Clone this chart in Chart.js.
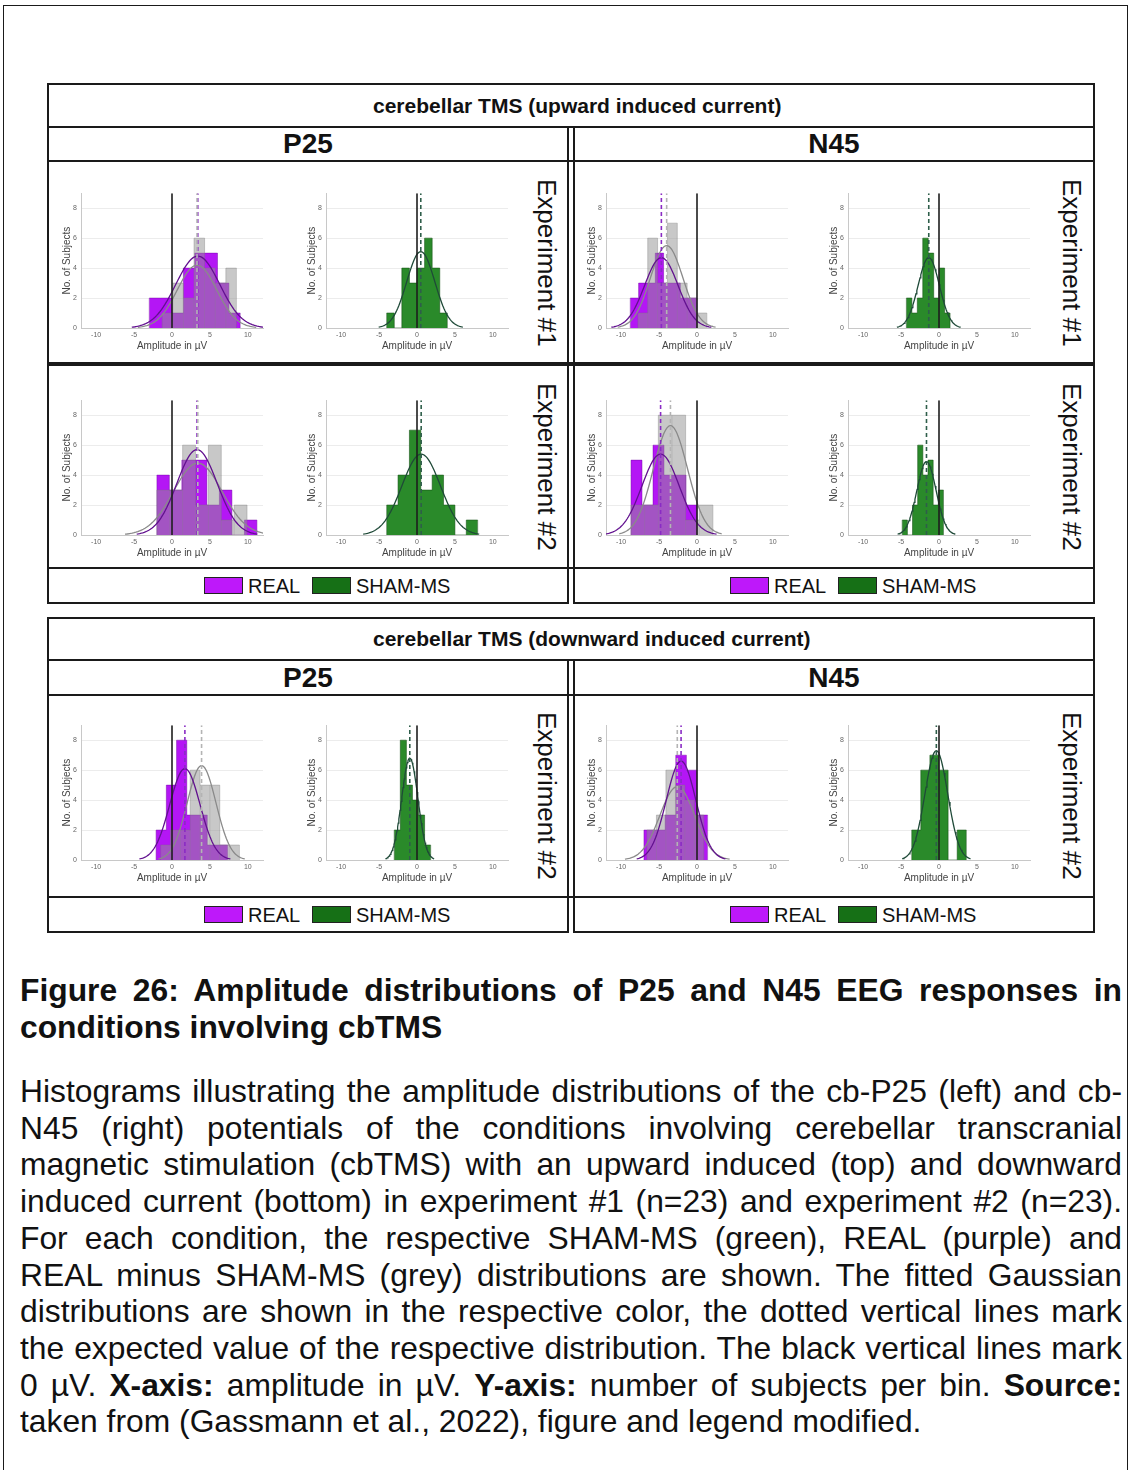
<!DOCTYPE html>
<html>
<head>
<meta charset="utf-8">
<script src="https://cdn.jsdelivr.net/npm/chart.js@4.4.1/dist/chart.umd.min.js"></script>
<style>
body { margin: 0; width: 1130px; height: 1470px; background: #fff; position: relative; overflow: hidden;
       font-family: "Liberation Sans", Arial, sans-serif; color: #111; }
.box { position: absolute; border: 2px solid #1a1a1a; box-sizing: border-box; }
.hl { position: absolute; height: 2px; background: #1a1a1a; }
.cell { position: absolute; display: flex; align-items: center; justify-content: center; font-weight: bold; }
.ttl { position: absolute; display: flex; align-items: center; font-weight: bold; font-size: 21px; }
.exp { position: absolute; writing-mode: vertical-rl; font-size: 26px; display: flex; align-items: center; justify-content: center; }
.swatch { position: absolute; width: 39px; height: 17px; border: 1.5px solid #222; box-sizing: border-box; }
.ltext { position: absolute; font-size: 20px; line-height: 20px; }
canvas { position: absolute; }
.cap { position: absolute; left: 20px; width: 1102px; font-size: 31.8px; line-height: 36.7px; }
.j { text-align: justify; text-align-last: justify; }
</style>
</head>
<body>
<div class="box" style="left:3px;top:5px;width:1125px;height:1500px;border-width:1.5px"></div>

<!-- upward induced current -->
<div class="box" style="left:47px;top:83px;width:1048px;height:45px"></div>
<div class="ttl" style="left:373px;top:83px;height:45px">cerebellar TMS (upward induced current)</div>
<div class="box" style="left:47px;top:126px;width:522px;height:478px"></div>
<div class="box" style="left:573px;top:126px;width:522px;height:478px"></div>
<div class="hl" style="left:47px;top:160px;width:1048px"></div>
<div class="hl" style="left:47px;top:362px;width:1048px;height:4px"></div>
<div class="hl" style="left:47px;top:567px;width:1048px"></div>
<div class="cell" style="left:47px;top:127px;width:522px;height:34px;font-size:28px">P25</div>
<div class="cell" style="left:573px;top:127px;width:522px;height:34px;font-size:28px">N45</div>
<div class="exp" style="left:528px;top:165px;width:36px;height:196px">Experiment #1</div>
<div class="exp" style="left:1053px;top:165px;width:36px;height:196px">Experiment #1</div>
<div class="exp" style="left:528px;top:368px;width:36px;height:198px">Experiment #2</div>
<div class="exp" style="left:1053px;top:368px;width:36px;height:198px">Experiment #2</div>

<!-- downward induced current -->
<div class="box" style="left:47px;top:617px;width:1048px;height:44px"></div>
<div class="ttl" style="left:373px;top:617px;height:44px">cerebellar TMS (downward induced current)</div>
<div class="box" style="left:47px;top:659px;width:522px;height:274px"></div>
<div class="box" style="left:573px;top:659px;width:522px;height:274px"></div>
<div class="hl" style="left:47px;top:694px;width:1048px"></div>
<div class="hl" style="left:47px;top:896px;width:1048px"></div>
<div class="cell" style="left:47px;top:660px;width:522px;height:35px;font-size:28px">P25</div>
<div class="cell" style="left:573px;top:660px;width:522px;height:35px;font-size:28px">N45</div>
<div class="exp" style="left:528px;top:697px;width:36px;height:198px">Experiment #2</div>
<div class="exp" style="left:1053px;top:697px;width:36px;height:198px">Experiment #2</div>

<div id="legends"></div>

<div class="cap" style="top:972px;font-weight:bold">
  <div class="j">Figure 26: Amplitude distributions of P25 and N45 EEG responses in</div>
  <div>conditions involving cbTMS</div>
</div>
<div class="cap" style="top:1073px">
  <div class="j">Histograms illustrating the amplitude distributions of the cb-P25 (left) and cb-</div>
  <div class="j">N45 (right) potentials of the conditions involving cerebellar transcranial</div>
  <div class="j">magnetic stimulation (cbTMS) with an upward induced (top) and downward</div>
  <div class="j">induced current (bottom) in experiment #1 (n=23) and experiment #2 (n=23).</div>
  <div class="j">For each condition, the respective SHAM-MS (green), REAL (purple) and</div>
  <div class="j">REAL minus SHAM-MS (grey) distributions are shown. The fitted Gaussian</div>
  <div class="j">distributions are shown in the respective color, the dotted vertical lines mark</div>
  <div class="j">the expected value of the respective distribution. The black vertical lines mark</div>
  <div class="j">0 µV. <b>X-axis:</b> amplitude in µV. <b>Y-axis:</b> number of subjects per bin. <b>Source:</b></div>
  <div>taken from (Gassmann et al., 2022), figure and legend modified.</div>
</div>

<script>
var xTicks = [-10, -5, 0, 5, 10];
var yTicks = [0, 2, 4, 6, 8];

// conditions: up P25 #1, up N45 #1, up P25 #2, up N45 #2, down P25 #2, down N45 #2
var realStart = [-3.0, -8.8, -2.0, -8.7, -2.1, -7.0];
var realWidth = [1.5, 1.1, 1.65, 1.45, 1.35, 1.4];
var realCounts = [
    [2, 2, 1, 4, 5, 5, 3, 1],
    [2, 3, 3, 5, 3, 3, 2, 2],
    [4, 3, 5, 5, 2, 3, 0, 1],
    [5, 2, 6, 4, 4, 2],
    [2, 5, 8, 3, 3, 1, 1],
    [2, 2, 3, 7, 6, 3]
];
// REAL minus SHAM-MS
var diffStart = [-1.3, -7.8, -2.0, -8.7, -1.5, -6.6];
var diffWidth = [1.4, 1.3, 1.7, 1.8, 1.3, 1.25];
var diffCounts = [
    [1, 3, 2, 6, 4, 3, 4],
    [1, 6, 3, 7, 3, 2, 1],
    [3, 3, 6, 2, 6, 1, 2],
    [2, 2, 8, 8, 1, 2],
    [1, 2, 2, 6, 5, 5, 1, 1],
    [2, 3, 6, 5, 4, 3]
];
var shamStart = [-4.0, -4.3, -4.0, -4.85, -3.0, -3.6];
var shamWidth = [1.0, 0.72, 1.5, 0.68, 0.8, 1.2];
var shamCounts = [
    [1, 0, 4, 3, 4, 6, 4, 1],
    [2, 1, 2, 6, 5, 2, 4, 1],
    [2, 4, 7, 3, 4, 2, 0, 1],
    [1, 0, 2, 6, 4, 5, 2, 3],
    [2, 8, 5, 4, 3, 1],
    [2, 6, 7, 6, 0, 2]
];
// fitted gaussians (mean = expected value, sd, peak height)
var realMean = [3.4, -4.7, 3.3, -4.8, 1.7, -2.1];
var realSd = [2.9, 2.2, 2.65, 2.46, 2.0, 1.95];
var realPeak = [4.8, 4.7, 5.7, 5.4, 6.1, 6.6];
var diffMean = [3.3, -4.0, 3.4, -3.5, 3.9, -2.6];
var diffSd = [2.6, 2.15, 3.2, 2.25, 1.9, 2.3];
var diffPeak = [4.2, 5.5, 4.8, 7.3, 6.3, 4.9];
var shamMean = [0.5, -1.35, 0.55, -1.65, -0.95, -0.35];
var shamSd = [1.85, 1.4, 2.55, 1.27, 1.07, 1.5];
var shamPeak = [5.1, 4.7, 5.4, 4.9, 6.8, 7.3];

// where things go on the page
var plotLeft = [81, 326, 606, 848];
var plotTop = [191, 398, 723];
var plotW = 182, plotH = 137;
var legendY = [577, 906];

function histPoints(start, width, counts) {
    var pts = [{x: start, y: 0}];
    for (var i = 0; i < counts.length; i++) pts.push({x: start + i * width, y: counts[i]});
    pts.push({x: start + counts.length * width, y: 0});
    return pts;
}

function edgePoints(start, width, counts) {
    var pts = [];
    for (var i = 1; i < counts.length; i++) {
        var h = Math.min(counts[i - 1], counts[i]);
        if (h > 0) {
            var e = start + i * width;
            pts.push({x: e, y: 0}, {x: e, y: h}, {x: e, y: null});
        }
    }
    return pts;
}

function gaussPoints(mean, sd, peak) {
    var pts = [];
    for (var i = 0; i <= 80; i++) {
        var x = mean - 3 * sd + i * 6 * sd / 80;
        pts.push({x: x, y: peak * Math.exp(-0.5 * Math.pow((x - mean) / sd, 2))});
    }
    return pts;
}

function vline(x) {
    return [{x: x, y: 0}, {x: x, y: 9}];
}

function histSets(start, width, counts, fill, edge, order) {
    return [{
        data: histPoints(start, width, counts), stepped: 'before', fill: 'origin',
        backgroundColor: fill, borderColor: edge, borderWidth: 0.8, order: order
    }, {
        data: edgePoints(start, width, counts), spanGaps: false, fill: false,
        borderColor: edge, borderWidth: 0.6, order: order
    }];
}

function curveSet(pts, color, order) {
    return {data: pts, borderColor: color, borderWidth: 1.3, fill: false, tension: 0, order: order};
}

function dashSet(x, color) {
    return {data: vline(x), borderColor: color, borderWidth: 1.6, borderDash: [4, 3], fill: false, order: 2};
}

function zeroSet() {
    return {data: vline(0), borderColor: '#1e1e1e', borderWidth: 1.6, fill: false, order: 1};
}

function makeChart(col, row, datasets) {
    var c = document.createElement('canvas');
    var w = 22 + plotW + 6, h = 6 + plotH + 28;
    c.width = w; c.height = h;
    c.style.left = (plotLeft[col] - 22) + 'px';
    c.style.top = (plotTop[row] - 6) + 'px';
    c.style.width = w + 'px'; c.style.height = h + 'px';
    document.body.appendChild(c);
    new Chart(c.getContext('2d'), {
        type: 'line',
        data: {datasets: datasets},
        options: {
            animation: false,
            responsive: false,
            layout: {padding: {top: 6, right: 6, left: 0, bottom: 0}},
            elements: {point: {radius: 0}, line: {borderCapStyle: 'butt'}},
            plugins: {legend: {display: false}, tooltip: {enabled: false}},
            scales: {
                x: {
                    type: 'linear', min: -12, max: 12,
                    afterBuildTicks: function(s) { s.ticks = xTicks.map(function(v) { return {value: v}; }); },
                    afterFit: function(s) { s.height = 28; },
                    ticks: {font: {size: 7}, color: '#666', padding: 3, maxRotation: 0, autoSkip: false},
                    grid: {color: 'rgba(0,0,0,0)', drawTicks: false},
                    border: {color: '#c8c8c8'},
                    title: {display: true, text: 'Amplitude in µV', font: {size: 10}, color: '#444', padding: {top: 0, bottom: 4}}
                },
                y: {
                    min: 0, max: 9,
                    afterBuildTicks: function(s) { s.ticks = yTicks.map(function(v) { return {value: v}; }); },
                    afterFit: function(s) { s.width = 22; },
                    ticks: {font: {size: 7}, color: '#666', padding: 4},
                    grid: {color: '#ececec', drawTicks: false},
                    border: {color: '#c8c8c8'},
                    title: {display: true, text: 'No. of Subjects', font: {size: 10}, color: '#444', padding: {top: 2, bottom: 0}}
                }
            }
        }
    });
}

var purpleFill = 'rgb(180, 22, 245)';
var purpleEdge = 'rgba(110, 0, 160, 0.55)';
var greyFill = 'rgba(145, 145, 145, 0.5)';
var greyEdge = 'rgba(120, 120, 120, 0.45)';
var greenFill = 'rgb(42, 138, 42)';
var greenEdge = 'rgba(20, 80, 20, 0.7)';

for (var k = 0; k < 6; k++) {
    var row = k < 2 ? 0 : (k < 4 ? 1 : 2);
    var colReal = (k % 2) * 2;

    var realSets = []
        .concat(histSets(realStart[k], realWidth[k], realCounts[k], purpleFill, purpleEdge, 20))
        .concat(histSets(diffStart[k], diffWidth[k], diffCounts[k], greyFill, greyEdge, 15));
    realSets.push(curveSet(gaussPoints(diffMean[k], diffSd[k], diffPeak[k]), '#8a8a8a', 6));
    realSets.push(curveSet(gaussPoints(realMean[k], realSd[k], realPeak[k]), '#62118f', 5));
    realSets.push(dashSet(diffMean[k], '#b4b4b4'));
    realSets.push(dashSet(realMean[k], '#8a2bc4'));
    realSets.push(zeroSet());
    makeChart(colReal, row, realSets);

    var shamSets = histSets(shamStart[k], shamWidth[k], shamCounts[k], greenFill, greenEdge, 20);
    shamSets.push(curveSet(gaussPoints(shamMean[k], shamSd[k], shamPeak[k]), '#1f4a38', 5));
    shamSets.push(dashSet(shamMean[k], '#2e5e4a'));
    shamSets.push(zeroSet());
    makeChart(colReal + 1, row, shamSets);
}

// legend rows
var lg = document.getElementById('legends');
[0, 1].forEach(function(r) {
    [0, 526].forEach(function(dx) {
        lg.insertAdjacentHTML('beforeend',
            '<div class="swatch" style="left:' + (204 + dx) + 'px;top:' + legendY[r] + 'px;background:rgb(190,24,250)"></div>' +
            '<div class="ltext" style="left:' + (248 + dx) + 'px;top:' + (legendY[r] - 1) + 'px">REAL</div>' +
            '<div class="swatch" style="left:' + (312 + dx) + 'px;top:' + legendY[r] + 'px;background:rgb(22,112,22)"></div>' +
            '<div class="ltext" style="left:' + (356 + dx) + 'px;top:' + (legendY[r] - 1) + 'px">SHAM-MS</div>');
    });
});
</script>
</body>
</html>
